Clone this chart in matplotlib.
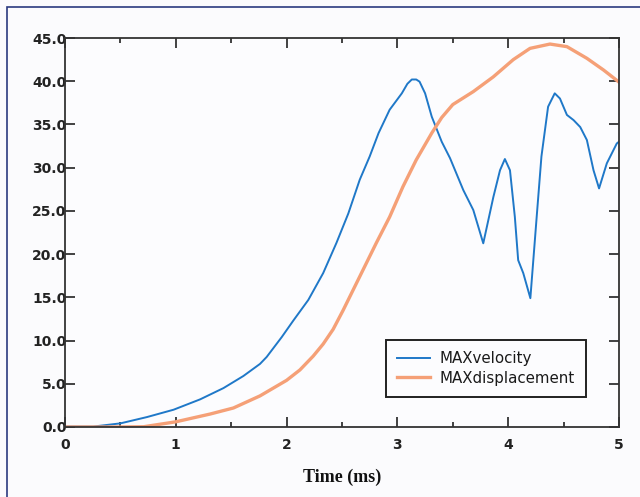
import matplotlib
matplotlib.use('Agg')
import matplotlib.pyplot as plt
from matplotlib.patches import Rectangle
from matplotlib.ticker import MultipleLocator, FormatStrFormatter

# values
vel_t = [0.0, 0.255, 0.5, 0.74, 0.98, 1.22, 1.43, 1.61, 1.76, 1.82, 1.956, 2.06,
         2.196, 2.33, 2.45, 2.557, 2.66, 2.75, 2.83, 2.93, 3.04, 3.09, 3.13, 3.17,
         3.2, 3.25, 3.31, 3.4, 3.475, 3.595, 3.685, 3.775, 3.866, 3.926, 3.97,
         4.016, 4.06, 4.09, 4.136, 4.2, 4.257, 4.3, 4.36, 4.42, 4.467, 4.53, 4.59,
         4.65, 4.71, 4.77, 4.82, 4.89, 4.98, 5.0]
vel_v = [0.05, 0.05, 0.42, 1.15, 2.0, 3.2, 4.5, 5.9, 7.3, 8.1, 10.4, 12.3,
         14.7, 17.8, 21.3, 24.7, 28.6, 31.3, 34.0, 36.7, 38.6, 39.7, 40.2, 40.2,
         39.95, 38.6, 35.9, 33.0, 31.1, 27.4, 25.1, 21.25, 26.6, 29.7, 31.0,
         29.7, 24.3, 19.3, 17.8, 14.9, 24.3, 31.3, 37.05, 38.6, 38.0, 36.1, 35.5,
         34.7, 33.2, 29.7, 27.6, 30.5, 32.8, 33.0]

disp_t = [0.0, 0.5, 0.71, 1.0, 1.31, 1.52, 1.76, 2.0, 2.12, 2.24, 2.33, 2.42,
          2.51, 2.66, 2.81, 2.93, 3.05, 3.17, 3.31, 3.4, 3.5, 3.685, 3.865, 4.046,
          4.197, 4.377, 4.53, 4.71, 4.86, 5.0]
disp_v = [0.0, 0.0, 0.03, 0.6, 1.5, 2.2, 3.6, 5.4, 6.6, 8.2, 9.6, 11.3,
          13.5, 17.4, 21.3, 24.3, 27.8, 30.9, 34.0, 35.8, 37.3, 38.8, 40.5, 42.5,
          43.8, 44.3, 44.0, 42.65, 41.3, 39.9]

fig = plt.figure(figsize=(6.4, 4.97), dpi=100, facecolor='#fbfbfd')
ax = fig.add_axes([65/640, 70/497, 554/640, 389/497])
ax.set_facecolor('#fcfcfe')

ax.plot(vel_t, vel_v, color='#1f78c8', lw=1.4, label='MAXvelocity')
ax.plot(disp_t, disp_v, color='#f5a077', lw=2.4, label='MAXdisplacement')

ax.set_xlim(0, 5)
ax.set_ylim(0, 45)
ax.xaxis.set_major_locator(MultipleLocator(1))
ax.xaxis.set_minor_locator(MultipleLocator(0.5))
ax.yaxis.set_major_locator(MultipleLocator(5))
ax.yaxis.set_major_formatter(FormatStrFormatter('%.1f'))

for s in ax.spines.values():
    s.set_color('#333333')
    s.set_linewidth(1.3)
ax.tick_params(axis='x', which='major', direction='in', top=True, length=7, width=1.3,
               color='#333333', pad=8, labelsize=10)
ax.tick_params(axis='x', which='minor', direction='in', top=True, length=3.5, width=1.3,
               color='#333333')
ax.tick_params(axis='y', which='major', direction='in', right=True, length=7, width=1.3,
               color='#333333', pad=-1, labelsize=10)
for lab in ax.get_xticklabels() + ax.get_yticklabels():
    lab.set_fontweight('bold')
    lab.set_color('#222222')

ax.set_xlabel('Time (ms)', family='Liberation Serif', fontweight='bold', fontsize=13,
              labelpad=12, color='#111111')

leg = ax.legend(loc='upper left', bbox_to_anchor=(0.5794, 0.2237), borderaxespad=0,
                fancybox=False, edgecolor='#222222', fontsize=10.8, handlelength=2.2,
                handletextpad=0.6, borderpad=0.75, labelspacing=0.3, framealpha=1)
leg.get_frame().set_linewidth(1.4)
leg.get_frame().set_facecolor('#fcfcfe')
for txt in leg.get_texts():
    txt.set_color('#1a1a1a')

# page frame (only its left and top edges show in the crop)
fig.add_artist(Rectangle((7/640, -0.1), 1.2, 1.1 - 7/497, transform=fig.transFigure,
                         fill=False, edgecolor='#2b3a80', lw=1.2))

fig.savefig('out.png', dpi=100, facecolor=fig.get_facecolor())
